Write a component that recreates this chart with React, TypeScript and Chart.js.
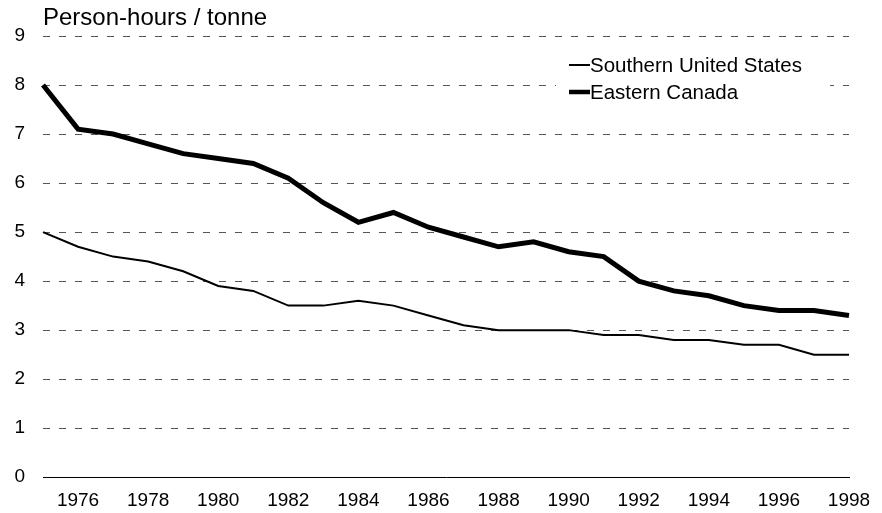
import React, { useEffect, useRef } from "react";
import { Chart, registerables } from "chart.js";

Chart.register(...registerables);

const years = [
  "1975", "1976", "1977", "1978", "1979", "1980", "1981", "1982", "1983", "1984", "1985", "1986",
  "1987", "1988", "1989", "1990", "1991", "1992", "1993", "1994", "1995", "1996", "1997", "1998",
];
const southernUS = [5.0, 4.7, 4.5, 4.4, 4.2, 3.9, 3.8, 3.5, 3.5, 3.6, 3.5, 3.3, 3.1, 3.0, 3.0, 3.0, 2.9, 2.9, 2.8, 2.8, 2.7, 2.7, 2.5, 2.5];
const easternCanada = [8.0, 7.1, 7.0, 6.8, 6.6, 6.5, 6.4, 6.1, 5.6, 5.2, 5.4, 5.1, 4.9, 4.7, 4.8, 4.6, 4.5, 4.0, 3.8, 3.7, 3.5, 3.4, 3.4, 3.3];
const seriesNames = ["Southern United States", "Eastern Canada"];
const yTitle = "Person-hours / tonne";

const FONT = "'Liberation Sans', Arial, sans-serif";
const W = 882;
const H = 513;

const overlayPlugin = {
  id: "overlay",
  afterDraw(chart: any) {
    const { ctx, chartArea } = chart;
    ctx.save();
    ctx.fillStyle = "#000";
    ctx.font = `24px ${FONT}`;
    ctx.textAlign = "left";
    ctx.textBaseline = "alphabetic";
    ctx.fillText(yTitle, chartArea.left, 25);

    const lx = chartArea.right - 293;
    ctx.fillStyle = "#fff";
    ctx.fillRect(lx, 46, 274, 60);
    const items = [
      { name: seriesNames[0], w: 2, y: 65 },
      { name: seriesNames[1], w: 4.5, y: 92 },
    ];
    ctx.font = `20.5px ${FONT}`;
    ctx.textBaseline = "middle";
    for (const it of items) {
      ctx.strokeStyle = "#000";
      ctx.lineWidth = it.w;
      ctx.beginPath();
      ctx.moveTo(lx + 13, it.y);
      ctx.lineTo(lx + 34, it.y);
      ctx.stroke();
      ctx.fillStyle = "#000";
      ctx.fillText(it.name, lx + 34, it.y + 1);
    }
    ctx.restore();
  },
};

export default function App() {
  const ref = useRef<HTMLCanvasElement | null>(null);
  useEffect(() => {
    if (!ref.current) return;
    const chart = new Chart(ref.current, {
      type: "line",
      data: {
        labels: years,
        datasets: [
          {
            label: seriesNames[0],
            data: southernUS,
            borderColor: "#000",
            borderWidth: 2,
            pointRadius: 0,
            tension: 0,
            fill: false,
          },
          {
            label: seriesNames[1],
            data: easternCanada,
            borderColor: "#000",
            borderWidth: 5,
            pointRadius: 0,
            tension: 0,
            fill: false,
          },
        ],
      },
      options: {
        animation: false,
        responsive: false,
        maintainAspectRatio: false,
        devicePixelRatio: 1,
        layout: { padding: { top: 36, right: 33, bottom: -11, left: 0 } },
        plugins: { legend: { display: false }, tooltip: { enabled: false }, title: { display: false } },
        scales: {
          x: {
            type: "category",
            offset: false,
            afterFit: (s: any) => {
              s.paddingRight = 0;
              s.paddingLeft = 0;
            },
            grid: { display: false, drawTicks: false },
            border: { display: true, color: "#000", width: 1 },
            ticks: {
              autoSkip: false,
              maxRotation: 0,
              padding: 12,
              color: "#000",
              font: { family: FONT, size: 19 },
              callback: (_v: any, i: number) => (parseInt(years[i]) % 2 === 0 ? years[i] : ""),
            },
          },
          y: {
            min: 0,
            max: 9,
            afterFit: (s: any) => {
              s.width = 43;
              s.paddingTop = 0;
            },
            grid: {
              drawTicks: false,
              color: (c: any) => (c.tick && c.tick.value === 0 ? "rgba(0,0,0,0)" : "#555"),
              lineWidth: 1,
            },
            border: { display: false, dash: [7, 9] },
            ticks: {
              stepSize: 1,
              padding: 18,
              color: "#000",
              font: { family: FONT, size: 19 },
            },
          },
        },
      },
      plugins: [overlayPlugin],
    });
    return () => chart.destroy();
  }, []);
  return (
    <div style={{ width: W, height: H }}>
      <style>{"html,body{margin:0;padding:0;overflow:hidden;background:#fff}"}</style>
      <canvas ref={ref} width={W} height={H} style={{ display: "block", width: W, height: H }} />
    </div>
  );
}
